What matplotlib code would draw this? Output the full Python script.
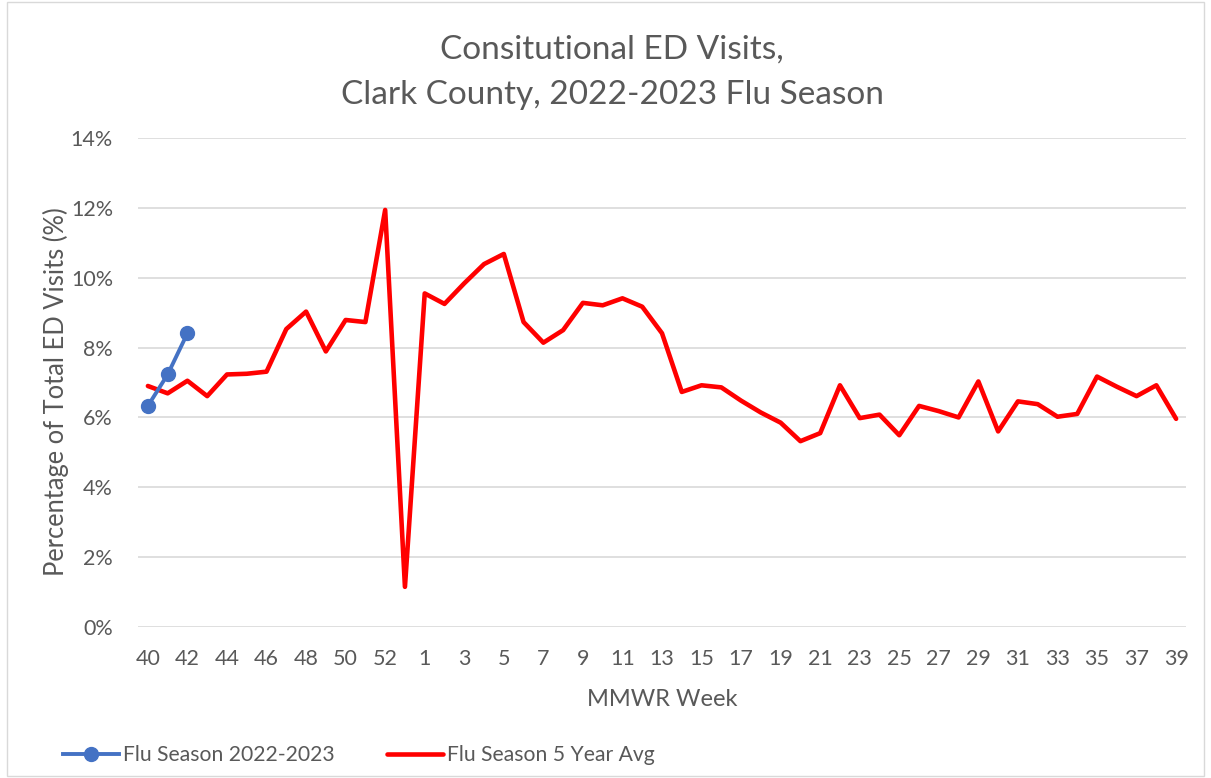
import numpy as np
import matplotlib
matplotlib.use("Agg")
import matplotlib.pyplot as plt
from matplotlib.patches import Rectangle

weeks = [40, 41, 42, 43, 44, 45, 46, 47, 48, 49, 50, 51, 52, 53] + list(range(1, 40))
season_now = [6.33, 7.23, 8.41]
five_year_avg = [6.90, 6.69, 7.05, 6.61, 7.23, 7.25, 7.31, 8.53, 9.03, 7.89,
                 8.79, 8.73, 11.94, 1.15, 9.55, 9.25, 9.84, 10.39, 10.68, 8.73,
                 8.14, 8.50, 9.28, 9.21, 9.41, 9.17, 8.41, 6.73, 6.92, 6.86,
                 6.48, 6.14, 5.85, 5.32, 5.55, 6.92, 5.98, 6.08, 5.49, 6.33,
                 6.18, 6.00, 7.03, 5.60, 6.46, 6.38, 6.02, 6.10, 7.17, 6.88,
                 6.61, 6.92, 5.96]

plt.rcParams['font.family'] = ['Lato', 'DejaVu Sans']
grey = '#595959'

fig = plt.figure(figsize=(12.11, 7.78), dpi=100)
fig.patches.append(Rectangle((7/1211, 2/778), 1197/1211, 774/778, transform=fig.transFigure,
                             fill=False, edgecolor='#d9d9d9', linewidth=1))
ax = fig.add_axes([138/1211, 1 - 627/778, 1048/1211, 489/778])

x = np.arange(len(weeks))
ax.plot(x[:len(season_now)], season_now, '-o', color='#4472c4', linewidth=2.8,
        markersize=10, label='Flu Season 2022-2023', zorder=3)
ax.plot(x, five_year_avg, '-', color='#ff0000', linewidth=3.3,
        solid_joinstyle='round', solid_capstyle='round',
        label='Flu Season 5 Year Avg', zorder=2)

ax.set_xlim(-0.5, len(weeks) - 0.5)
ax.set_ylim(0, 14)
ax.set_yticks(np.arange(0, 15, 2))
ax.set_yticklabels([f'{v}%' for v in range(0, 15, 2)])
ax.set_xticks(x[::2])
ax.set_xticklabels([str(w) for w in weeks[::2]])
ax.tick_params(length=0, labelsize=15.5, colors=grey)
ax.tick_params(axis='y', pad=18)
ax.tick_params(axis='x', pad=16)
ax.grid(axis='y', color='#d9d9d9', linewidth=1.2)
ax.set_axisbelow(True)
for s in ax.spines.values():
    s.set_visible(False)

ax.set_xlabel('MMWR Week', fontsize=17, color=grey, labelpad=14)
ax.set_ylabel('Percentage of Total ED Visits (%)', fontsize=18.4, color=grey)
ax.yaxis.set_label_coords(-0.066, 0.481)
fig.text(612/1211, 1 - 72/778, 'Consitutional ED Visits,\nClark County, 2022-2023 Flu Season',
         ha='center', va='center', fontsize=24, color=grey, linespacing=1.63)

fig.legend(loc='center left', bbox_to_anchor=(63/1211, 1 - 755/778), ncol=2,
           frameon=False, fontsize=15.2, labelcolor=grey, handlelength=2.65,
           handletextpad=0.19, columnspacing=2.5, borderaxespad=0, borderpad=0)

fig.savefig('out.png', dpi=100)
